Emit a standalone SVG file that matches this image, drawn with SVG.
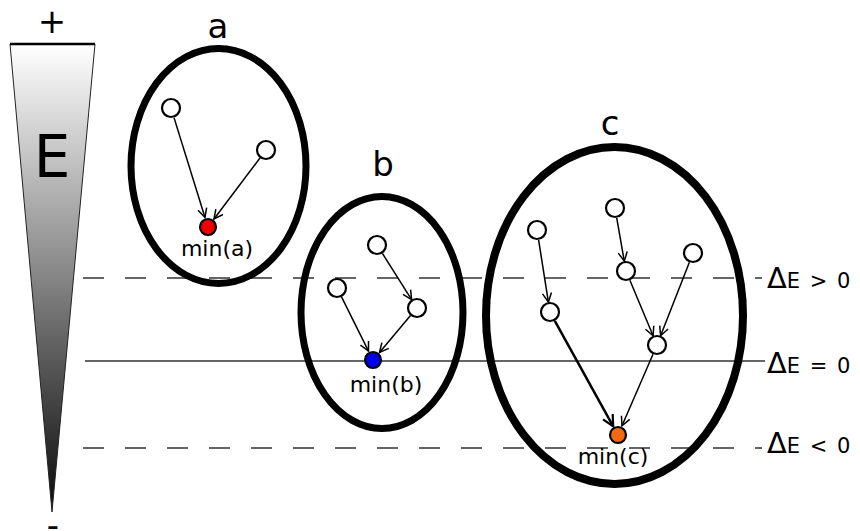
<svg xmlns="http://www.w3.org/2000/svg" width="860" height="531" viewBox="0 0 860 531">
  <style>
    text { font-family: "DejaVu Sans", "Liberation Sans", sans-serif; fill: #000; }
    .basin { fill: none; stroke: #000; }
    .state { fill: #fff; stroke: #000; stroke-width: 2.2; }
    .edge { stroke: #000; stroke-width: 1.5; fill: none; marker-end: url(#arrow); }
    .edge.heavy { stroke-width: 2.5; marker-end: url(#arrowBig); }
    .level { stroke: #333; stroke-width: 1.3; fill: none; }
    .dashed { stroke-dasharray: 21 21; }
    .lbl { font-size: 34px; text-anchor: middle; }
    .minlbl { font-size: 22px; text-anchor: middle; }
    .delta { font-size: 29px; }
    .delta tspan { font-size: 21px; letter-spacing: 1.5px; }
  </style>
  <defs>
    <linearGradient id="energyFill" x1="0" y1="44" x2="0" y2="512" gradientUnits="userSpaceOnUse">
      <stop offset="0" stop-color="#ffffff"/>
      <stop offset="1" stop-color="#0a0a0a"/>
    </linearGradient>
    <marker id="arrow" markerWidth="13" markerHeight="13" refX="10" refY="5.5" orient="auto" markerUnits="userSpaceOnUse">
      <path d="M1,1 L10,5.5 L1,10" fill="none" stroke="#000" stroke-width="1.5"/>
    </marker>
    <marker id="arrowBig" markerWidth="15" markerHeight="15" refX="12" refY="6.5" orient="auto" markerUnits="userSpaceOnUse">
      <path d="M1,1 L12,6.5 L1,12" fill="none" stroke="#000" stroke-width="2.2"/>
    </marker>
  </defs>

  <!-- energy scale -->
  <g id="energy-scale">
    <polygon points="10,44 95,44 52,512" fill="url(#energyFill)" stroke="#222" stroke-width="1"/>
    <line x1="10" y1="44" x2="95" y2="44" stroke="#000" stroke-width="2.5"/>
    <text x="52" y="33" style="font-size:34px" text-anchor="middle">+</text>
    <text x="52" y="177" style="font-size:58px" text-anchor="middle">E</text>
    <text x="53" y="537" style="font-size:34px" text-anchor="middle">-</text>
  </g>

  <!-- energy levels -->
  <g id="levels">
    <line class="level dashed" x1="83" y1="278" x2="762" y2="278"/>
    <line class="level" x1="85" y1="361" x2="765" y2="361"/>
    <line class="level dashed" x1="83" y1="448" x2="762" y2="448"/>
    <text class="delta" x="767" y="288">Δ<tspan>E &gt; 0</tspan></text>
    <text class="delta" x="767" y="373">Δ<tspan>E = 0</tspan></text>
    <text class="delta" x="767" y="453">Δ<tspan>E &lt; 0</tspan></text>
  </g>

  <!-- basin a -->
  <g id="basin-a">
    <ellipse class="basin" cx="218.5" cy="166" rx="87.5" ry="117.5" stroke-width="7"/>
    <text class="lbl" x="218" y="38">a</text>
    <circle class="state" cx="171" cy="108" r="9"/>
    <circle class="state" cx="266" cy="150" r="9"/>
    <circle class="state" cx="208" cy="227" r="8" style="fill:#ee0000"/>
    <text class="minlbl" x="217" y="256">min(a)</text>
  </g>

  <!-- basin b -->
  <g id="basin-b">
    <ellipse class="basin" cx="382" cy="312.5" rx="81" ry="116" stroke-width="7"/>
    <text class="lbl" x="383" y="176">b</text>
    <circle class="state" cx="377" cy="245" r="9"/>
    <circle class="state" cx="337" cy="288" r="9"/>
    <circle class="state" cx="417" cy="308" r="9"/>
    <circle class="state" cx="373" cy="360" r="8" style="fill:#0000ee"/>
    <text class="minlbl" x="386" y="392">min(b)</text>
  </g>

  <!-- basin c -->
  <g id="basin-c">
    <ellipse class="basin" cx="614.5" cy="315.5" rx="128.5" ry="168.5" stroke-width="8"/>
    <text class="lbl" x="610" y="135">c</text>
    <circle class="state" cx="537" cy="230" r="9"/>
    <circle class="state" cx="615" cy="208" r="9"/>
    <circle class="state" cx="693" cy="253" r="9"/>
    <circle class="state" cx="626" cy="271" r="9"/>
    <circle class="state" cx="550" cy="312" r="9"/>
    <circle class="state" cx="657" cy="345" r="9"/>
    <circle class="state" cx="618" cy="435" r="8" style="fill:#f26a10"/>
    <text class="minlbl" x="613" y="464">min(c)</text>
  </g>

  <!-- descent connectors -->
  <g id="connectors">
    <line class="edge" x1="174.0" y1="117.6" x2="205.0" y2="217.5"/>
    <line class="edge" x1="260.0" y1="158.0" x2="214.0" y2="219.0"/>

    <line class="edge" x1="382.4" y1="253.4" x2="411.6" y2="299.6"/>
    <line class="edge" x1="341.5" y1="296.9" x2="368.5" y2="351.1"/>
    <line class="edge" x1="410.5" y1="315.6" x2="379.5" y2="352.4"/>

    <line class="edge" x1="538.6" y1="239.9" x2="548.4" y2="302.1"/>
    <line class="edge" x1="616.7" y1="217.9" x2="624.3" y2="261.2"/>
    <line class="edge" x1="629.9" y1="280.2" x2="653.1" y2="335.8"/>
    <line class="edge" x1="689.4" y1="262.3" x2="660.6" y2="335.7"/>
    <line class="edge heavy" x1="554.8" y1="320.8" x2="613.2" y2="426.3"/>
    <line class="edge" x1="653.0" y1="354.2" x2="622.0" y2="425.8"/>
  </g>
</svg>
